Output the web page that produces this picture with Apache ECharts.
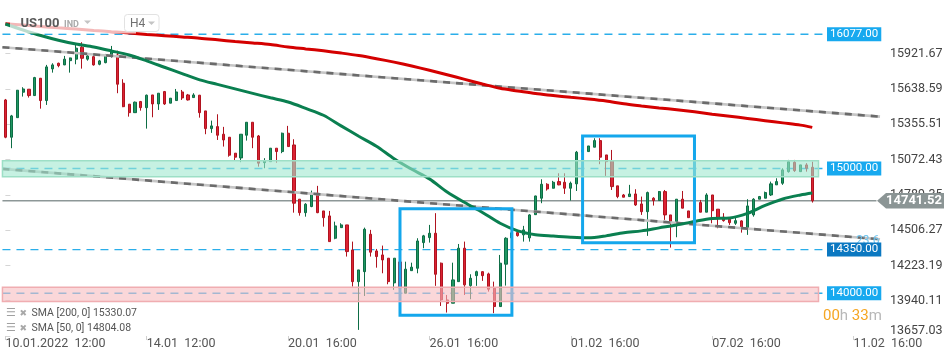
<!DOCTYPE html>
<html><head><meta charset="utf-8">
<script src="https://cdn.jsdelivr.net/npm/echarts@6/dist/echarts.min.js"></script>
<style>html,body{margin:0;padding:0;background:#fff;}#c{width:950px;height:361px;}</style>
</head><body><div id="c"></div>
<script>
// ---- data ----
const open  = [15550,15251,15408,15612,15636,15585,15724,15545,15799,15844,15831,15865,15877,15973,15877,15897,15836,15849,15909,15911,15684,15516,15448,15537,15488,15590,15518,15617,15524,15545,15614,15590,15569,15588,15462,15320,15336,15275,15251,15123,15085,15267,15371,15261,15047,15055,15163,15136,15283,15189,14754,14646,14695,14802,14660,14620,14441,14526,14548,14347,14093,14173,14473,14339,14307,14281,14083,14251,14000,14181,14200,14406,14446,14481,14241,13946,13920,14093,14361,14061,14141,14173,14155,14040,13893,14233,14444,14486,14468,14444,14630,14762,14874,14842,14895,14890,14842,14877,15133,15136,15171,15224,15109,15061,14861,14788,14775,14796,14716,14654,14762,14743,14815,14628,14574,14754,14660,14606,14727,14650,14788,14674,14610,14593,14561,14580,14521,14628,14754,14762,14788,14869,14882,14975,15050,14975,15029,15010];
const close = [15251,15422,15628,15638,15585,15729,15545,15815,15831,15825,15877,15887,15965,15884,15903,15831,15863,15903,15943,15676,15496,15448,15532,15488,15588,15518,15604,15518,15564,15614,15566,15550,15590,15448,15320,15342,15267,15229,15107,15091,15275,15371,15251,15043,15063,15163,15136,15283,15176,14722,14646,14714,14796,14646,14606,14414,14540,14548,14334,14093,14187,14513,14329,14294,14267,14093,14281,14043,14193,14209,14419,14460,14481,14152,13946,13920,14107,14361,14067,14120,14173,14141,14032,13893,14241,14441,14484,14462,14508,14628,14780,14874,14836,14890,14869,14842,14882,15131,15149,15181,15224,15091,15055,14855,14775,14770,14796,14708,14654,14807,14743,14815,14628,14574,14754,14682,14606,14724,14650,14788,14662,14602,14582,14566,14582,14529,14700,14754,14775,14807,14877,14895,14989,15055,14983,15029,15002,14741.52];
const low   = [15243,15163,15408,15577,15569,15582,15480,15510,15769,15812,15829,15769,15836,15801,15865,15825,15828,15844,15889,15604,15492,15416,15448,15464,15320,15411,15470,15510,15524,15545,15550,15545,15569,15408,15275,15286,15229,15176,15095,15063,15051,15224,15163,15015,15002,15055,15047,15123,15176,14646,14622,14614,14690,14642,14534,14414,14433,14526,14294,14053,13706,13978,14294,14205,14160,14072,14027,13994,14000,14181,14160,14361,14406,14059,13898,13845,13920,14093,13986,13952,14059,14099,14013,13840,13893,14061,14427,14454,14414,14414,14628,14722,14823,14840,14866,14796,14743,14820,15117,15136,15171,15035,14941,14828,14762,14770,14775,14700,14628,14460,14703,14743,14588,14366,14449,14682,14606,14596,14650,14650,14561,14521,14574,14548,14548,14486,14468,14614,14754,14762,14780,14869,14869,14967,14973,14975,14975,14727];
const high  = [15558,15430,15630,15652,15636,15735,15726,15831,15844,15849,15903,15889,15991,16013,15917,15903,15871,15919,15983,15945,15716,15516,15537,15542,15593,15590,15604,15622,15564,15638,15630,15598,15604,15590,15462,15384,15435,15334,15251,15123,15275,15371,15371,15269,15083,15163,15163,15288,15342,15235,14754,14722,14823,14861,14660,14660,14574,14561,14548,14414,14187,14526,14508,14355,14382,14281,14281,14283,14253,14245,14441,14468,14548,14642,14246,13986,14245,14395,14414,14152,14181,14175,14165,14093,14307,14449,14508,14492,14540,14634,14782,14914,14882,14901,14962,14962,14895,15141,15165,15181,15243,15243,15109,15149,14861,14796,14869,14834,14775,14815,14770,14820,14828,14628,14754,14820,14660,14748,14748,14802,14788,14674,14642,14596,14610,14585,14754,14762,14780,14815,14895,14922,15002,15069,15069,15029,15043,15055];

const smaIdx = [0,3,6,9,12,15,18,21,24,27,30,33,36,39,42,45,48,51,54,57,60,63,66,69,72,75,78,81,84,87,90,93,96,99,102,105,108,111,114,117,120,123,126,129,132,135,137];
const sma200 = [16160,16150,16139,16128,16118,16107,16097,16087,16075,16065,16055,16045,16032,16019,16007,15994,15974,15959,15944,15926,15906,15881,15853,15822,15788,15752,15715,15678,15643,15622,15601,15586,15571,15558,15542,15519,15502,15486,15471,15455,15436,15419,15402,15384,15366,15348,15330.07];
const sma50  = [16159,16111,16067,16029,15998,15974,15943,15910,15863,15812,15761,15711,15675,15639,15603,15567,15533,15482,15427,15342,15259,15179,15079,14994,14917,14812,14727,14648,14561,14500,14469,14458,14449,14444,14460,14485,14500,14524,14547,14576,14600,14604,14640,14704,14756,14788,14804.08];

const xTickIndex  = [0,24,48,72,96,120,144];
const xTickLabels = ['10.01.2022  12:00','14.01  12:00','20.01  16:00','26.01  16:00','01.02  16:00','07.02  16:00','11.02  16:00'];
const yTickValues = [13657.03,13940.11,14223.19,14506.27,14789.35,15072.43,15355.51,15638.59,15921.67];

const levels      = [16077, 15000, 14350, 14000];
const levelColors = ['#17a9ef','#17a9ef','#0b78c1','#17a9ef'];
const lastPrice   = 14741.52;
const trendUpper  = [[-0.5,15973],[148.5,15416]];
const trendLower  = [[-0.5,14997],[148.5,14433]];
const boxes       = [[67,86,14678,13824],[98,117,15260,14405]];
const bands       = [[-0.5,138.06,15063,14935],[-0.5,138.06,14048,13933]];
const levelEnd    = 139.4;
const nCats       = 149;
const smaLegend   = ['SMA [200, 0] 15330.07','SMA [50, 0] 14804.08'];
const fibLabel    = '23.6';

// ---- build ----
const cats = Array.from({length:nCats},(_,i)=>String(i));
const candles = open.map((o,i)=>[o, close[i], low[i], high[i]]);
const FONT = 'Roboto, sans-serif';
const tickSel = (i)=> xTickIndex.indexOf(i) >= 0;

function rectRender(fill, stroke, lw){
  return function(params, api){
    const p0 = api.coord([api.value(0), api.value(2)]);
    const p1 = api.coord([api.value(1), api.value(3)]);
    return {type:'rect', shape:{x:p0[0], y:p0[1], width:p1[0]-p0[0], height:p1[1]-p0[1]},
            style:{fill:fill, stroke:stroke, lineWidth:lw}};
  };
}

const series = [];
levels.forEach((l)=>{
  series.push({type:'line', xAxisIndex:1, yAxisIndex:0, data:[[-0.5,l],[levelEnd,l]],
    symbol:'none', silent:true, z:1,
    lineStyle:{color:'#2aaeea', width:1.4, type:[8,6]}});
});
series.push({type:'line', xAxisIndex:1, yAxisIndex:0, data:[[-0.5,lastPrice],[147.9,lastPrice]],
  symbol:'none', silent:true, z:1, lineStyle:{color:'#8d9797', width:1.4}});
series.push({type:'candlestick', xAxisIndex:0, yAxisIndex:0, data:candles, barWidth:2.6, z:2, silent:true,
  itemStyle:{color:'#1f9762', color0:'#dc2233', borderColor:'#0d6d45', borderColor0:'#b0131f', borderWidth:1}});
[trendUpper, trendLower].forEach(t=>{
  series.push({type:'line', xAxisIndex:1, yAxisIndex:0, data:t, symbol:'none', silent:true, z:3,
    lineStyle:{color:'#c6c6c6', width:2.6}});
  series.push({type:'line', xAxisIndex:1, yAxisIndex:0, data:t, symbol:'none', silent:true, z:3,
    lineStyle:{color:'#6b6b6b', width:2.6, type:[7,6]}});
});
series.push({type:'line', xAxisIndex:1, yAxisIndex:0, data:smaIdx.map((x,i)=>[x,sma200[i]]),
  symbol:'none', silent:true, z:3, smooth:0.3, lineStyle:{color:'#d40000', width:3}});
series.push({type:'line', xAxisIndex:1, yAxisIndex:0, data:smaIdx.map((x,i)=>[x,sma50[i]]),
  symbol:'none', silent:true, z:3, smooth:0.3, lineStyle:{color:'#0a7f50', width:3}});
series.push({type:'custom', xAxisIndex:1, yAxisIndex:0, data:boxes, encode:{x:[0,1], y:[2,3]},
  renderItem:rectRender('rgba(0,0,0,0)','#14a7ec',3), z:4, silent:true, clip:false});
series.push({type:'custom', xAxisIndex:1, yAxisIndex:0, data:[bands[0]], encode:{x:[0,1], y:[2,3]},
  renderItem:rectRender('rgba(160,231,206,0.6)','#9ddfc6',1.5), z:5, silent:true, clip:false});
series.push({type:'custom', xAxisIndex:1, yAxisIndex:0, data:[bands[1]], encode:{x:[0,1], y:[2,3]},
  renderItem:rectRender('rgba(246,188,192,0.6)','#f0adb1',1.5), z:5, silent:true, clip:false});

const chart = echarts.init(document.getElementById('c'), null, {renderer:'canvas'});
chart.setOption({
  animation:false,
  backgroundColor:'#ffffff',
  grid:{left:2.45, right:70, top:0, bottom:25, containLabel:false},
  xAxis:[
    {type:'category', data:cats, boundaryGap:true,
     axisLine:{show:false},
     axisTick:{show:true, alignWithLabel:true, interval:tickSel, length:4, lineStyle:{color:'#cfcfcf'}},
     axisLabel:{interval:tickSel, align:'left', margin:1, color:'#555', fontSize:12.5, fontFamily:FONT,
       formatter:(v,i)=>{const k=xTickIndex.indexOf(i); return k>=0?xTickLabels[k]:'';}},
     splitLine:{show:false}},
    {type:'value', min:-0.5, max:148.5, show:false}
  ],
  yAxis:[{type:'value', position:'right', min:13657.03, max:16351.4, scale:true,
    axisLine:{show:false}, splitLine:{show:false},
    axisTick:{show:true, customValues:yTickValues, length:5, lineStyle:{color:'#d5d5d5'}},
    axisLabel:{customValues:yTickValues, margin:10, color:'#444', fontSize:12.5, fontFamily:FONT,
      formatter:(v)=> (Math.abs(v-yTickValues[0])<0.01 ? '{lo|'+v.toFixed(2)+'}' : v.toFixed(2)),
      rich:{lo:{padding:[0,0,11,0], color:'#444', fontSize:12.5, fontFamily:FONT}}}
  }],
  series:series
});

// ---- overlay labels ----
const yp = v => chart.convertToPixel({yAxisIndex:0}, v);
const gfx = [];
const fy = yp(trendLower[1][1]);
gfx.push({type:'text', z:50, style:{text:fibLabel, x:856, y:fy+2, verticalAlign:'middle', fill:'#6cc3ee', font:'12px '+FONT}});
levels.forEach((l,i)=>{
  gfx.push({type:'text', z:60, style:{text:l.toFixed(2), x:827, y:yp(l), verticalAlign:'middle', align:'left',
    fill:'#ffffff', font:'11.5px '+FONT, backgroundColor:levelColors[i], padding:[1,3,1,3]}});
});
const ly = yp(lastPrice);
gfx.push({type:'polygon', z:60, shape:{points:[[877,ly],[886,ly-7.8],[944,ly-7.8],[944,ly+7.8],[886,ly+7.8]]}, style:{fill:'#8b9595'}});
gfx.push({type:'text', z:61, style:{text:lastPrice.toFixed(2), x:914, y:ly, align:'center', verticalAlign:'middle', fill:'#fff', font:'bold 13px '+FONT}});
// title area
gfx.push({type:'rect', z:70, shape:{x:10, y:0, width:126, height:33.5}, style:{fill:'rgba(255,255,255,0.72)'}});
gfx.push({type:'text', z:71, style:{text:'US100', x:20.5, y:23.5, verticalAlign:'middle', fill:'#5a5a5a', font:'bold 13px '+FONT}});
gfx.push({type:'text', z:71, style:{text:'IND', x:64, y:24.5, verticalAlign:'middle', fill:'#a9a9a9', font:'bold 9px '+FONT}});
gfx.push({type:'polygon', z:71, shape:{points:[[84,20.5],[91,20.5],[87.5,24]]}, style:{fill:'#c4c4c4'}});
gfx.push({type:'rect', z:71, shape:{x:124.5, y:14.5, width:34.5, height:17, r:3}, style:{fill:'#fff', stroke:'#e2e2e2', lineWidth:1}});
gfx.push({type:'text', z:72, style:{text:'H4', x:130, y:23.5, verticalAlign:'middle', fill:'#707070', font:'12px '+FONT}});
gfx.push({type:'polygon', z:72, shape:{points:[[148,21.5],[155,21.5],[151.5,25]]}, style:{fill:'#c4c4c4'}});
// legend
[313.5, 328.5].forEach((y,i)=>{
  gfx.push({type:'text', z:71, style:{text:'☰', x:6, y:y, verticalAlign:'middle', fill:'#a0a0a0', font:'11px DejaVu Sans'}});
  gfx.push({type:'text', z:71, style:{text:'✖', x:19.5, y:y, verticalAlign:'middle', fill:'#a8a8a8', font:'9px DejaVu Sans'}});
  gfx.push({type:'text', z:71, style:{text:smaLegend[i], x:31.5, y:y, verticalAlign:'middle', fill:'#555', font:'10.5px '+FONT}});
});
// countdown
gfx.push({type:'text', z:71, style:{text:'{o|00}{g|h }{o|33}{g|m}', x:823, y:316, verticalAlign:'middle',
  rich:{o:{fill:'#f5a623', font:'15px '+FONT}, g:{fill:'#b8b8b8', font:'15px '+FONT}}}});
chart.setOption({graphic:gfx});
</script>
</body></html>
